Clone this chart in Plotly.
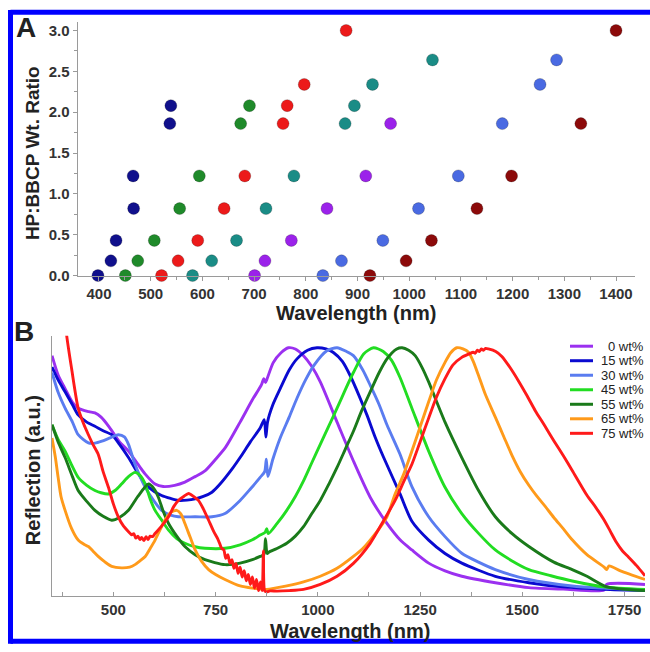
import plotly.graph_objects as go

# ---------------- Panel A data (wavelength nm, HP:BBCP ratio) ----------------
navy_x = [398, 423, 433, 467, 466, 537, 539]
navy_y = [0.0, 0.18, 0.43, 0.82, 1.22, 1.86, 2.08]
green_x = [451, 475, 507, 556, 594, 674, 691]
green_y = [0.0, 0.18, 0.43, 0.82, 1.22, 1.86, 2.08]
red_x = [521, 553, 591, 642, 682, 756, 764, 797, 878]
red_y = [0.0, 0.18, 0.43, 0.82, 1.22, 1.86, 2.08, 2.34, 3.0]
teal_x = [581, 618, 666, 723, 777, 876, 894, 929, 1045]
teal_y = [0.0, 0.18, 0.43, 0.82, 1.22, 1.86, 2.08, 2.34, 2.64]
purple_x = [701, 721, 772, 841, 916, 964]
purple_y = [0.0, 0.18, 0.43, 0.82, 1.22, 1.86]
royal_x = [833, 869, 949, 1018, 1095, 1180, 1253, 1285]
royal_y = [0.0, 0.18, 0.43, 0.82, 1.22, 1.86, 2.34, 2.64]
dkred_x = [924, 994, 1043, 1131, 1198, 1332, 1400]
dkred_y = [0.0, 0.18, 0.43, 0.82, 1.22, 1.86, 3.0]

# ---------------- Panel B data (wavelength nm, reflection a.u.) ----------------
labels = ["0 wt%", "15 wt%", "30 wt%", "45 wt%", "55 wt%", "65 wt%", "75 wt%"]

w0 = [350, 365, 382, 400, 414, 440, 455, 470, 490, 515, 537, 560, 578, 602, 622, 650, 675, 700, 724, 750, 775,
      810, 840, 862, 868, 872, 876, 891, 910, 928, 945, 965, 985, 1006, 1047, 1087, 1128, 1169, 1201, 1230, 1271,
      1311, 1352, 1434, 1516, 1600, 1700, 1706, 1800]
r0 = [0.968, 0.89, 0.835, 0.78, 0.756, 0.742, 0.737, 0.72, 0.68, 0.62, 0.583, 0.53, 0.49, 0.45, 0.44, 0.445,
      0.458, 0.48, 0.503, 0.55, 0.60, 0.70, 0.79, 0.85, 0.875, 0.86, 0.875, 0.94, 0.98, 1.0, 0.995, 0.968, 0.925,
      0.862, 0.70, 0.543, 0.397, 0.291, 0.225, 0.184, 0.131, 0.10, 0.078, 0.052, 0.032, 0.026, 0.022, 0.045, 0.045]

w1 = [350, 365, 382, 400, 414, 435, 455, 475, 496, 515, 537, 558, 578, 600, 618, 640, 659, 680, 700, 720, 741,
      761, 790, 810, 835, 859, 869, 873, 877, 890, 908, 930, 949, 975, 998, 1020, 1038, 1060, 1079, 1100, 1120,
      1140, 1161, 1201, 1230, 1271, 1311, 1352, 1434, 1516, 1600, 1700, 1800]
r1 = [0.922, 0.87, 0.822, 0.77, 0.729, 0.70, 0.683, 0.665, 0.649, 0.61, 0.557, 0.50, 0.45, 0.42, 0.404, 0.392,
      0.384, 0.385, 0.39, 0.40, 0.417, 0.45, 0.51, 0.557, 0.62, 0.676, 0.71, 0.64, 0.70, 0.77, 0.835, 0.91, 0.955,
      0.99, 1.0, 0.995, 0.981, 0.945, 0.888, 0.81, 0.729, 0.64, 0.557, 0.41, 0.30, 0.224, 0.17, 0.131, 0.078,
      0.052, 0.035, 0.025, 0.02]

w2 = [350, 365, 382, 400, 414, 439, 455, 472, 490, 512, 527, 537, 553, 578, 600, 618, 640, 659, 700, 741, 773,
      810, 835, 859, 870, 874, 878, 890, 908, 930, 949, 970, 990, 1022, 1047, 1070, 1087, 1110, 1128, 1150, 1169,
      1201, 1230, 1271, 1311, 1352, 1393, 1434, 1516, 1622, 1700, 1800]
r2 = [0.90, 0.82, 0.756, 0.70, 0.649, 0.616, 0.615, 0.623, 0.635, 0.649, 0.64, 0.61, 0.53, 0.437, 0.38, 0.344,
      0.325, 0.318, 0.318, 0.318, 0.331, 0.384, 0.43, 0.477, 0.50, 0.55, 0.48, 0.55, 0.636, 0.72, 0.796, 0.87,
      0.928, 0.988, 1.0, 0.985, 0.968, 0.91, 0.849, 0.77, 0.689, 0.57, 0.44, 0.318, 0.238, 0.171, 0.135, 0.105,
      0.065, 0.039, 0.03, 0.022]

w3 = [350, 365, 382, 400, 414, 435, 455, 470, 488, 505, 520, 537, 553, 565, 578, 590, 602, 620, 635, 655, 675,
      700, 724, 773, 810, 840, 859, 871, 875, 879, 900, 924, 945, 965, 985, 1006, 1027, 1047, 1067, 1087, 1112,
      1136, 1160, 1180, 1201, 1230, 1271, 1311, 1352, 1393, 1434, 1475, 1516, 1570, 1622, 1700, 1800]
r3 = [0.689, 0.63, 0.583, 0.52, 0.477, 0.445, 0.424, 0.415, 0.41, 0.425, 0.45, 0.48, 0.497, 0.485, 0.45, 0.39,
      0.344, 0.30, 0.264, 0.23, 0.211, 0.197, 0.191, 0.191, 0.205, 0.225, 0.244, 0.255, 0.27, 0.25, 0.29, 0.344,
      0.40, 0.463, 0.535, 0.61, 0.685, 0.756, 0.83, 0.90, 0.975, 1.0, 0.985, 0.95, 0.88, 0.756, 0.583, 0.437,
      0.331, 0.251, 0.184, 0.14, 0.105, 0.08, 0.059, 0.035, 0.025]

w4 = [350, 365, 382, 400, 414, 435, 455, 475, 496, 515, 537, 560, 586, 600, 610, 622, 635, 655, 675, 700, 724,
      773, 810, 840, 859, 868, 872, 876, 880, 900, 924, 945, 965, 985, 1006, 1027, 1047, 1067, 1087, 1107, 1128,
      1150, 1169, 1193, 1206, 1222, 1238, 1255, 1271, 1311, 1352, 1393, 1434, 1475, 1516, 1577, 1622, 1658, 1707,
      1800]
r4 = [0.689, 0.62, 0.557, 0.48, 0.424, 0.38, 0.344, 0.32, 0.304, 0.315, 0.344, 0.40, 0.45, 0.43, 0.397, 0.34,
      0.291, 0.24, 0.198, 0.165, 0.145, 0.125, 0.131, 0.145, 0.158, 0.165, 0.23, 0.17, 0.175, 0.19, 0.211, 0.24,
      0.278, 0.33, 0.384, 0.45, 0.517, 0.59, 0.663, 0.745, 0.822, 0.90, 0.955, 0.995, 1.0, 0.99, 0.968, 0.92,
      0.862, 0.70, 0.557, 0.424, 0.318, 0.25, 0.198, 0.135, 0.105, 0.078, 0.035, 0.02]

w5 = [350, 358, 365, 372, 382, 398, 414, 430, 439, 450, 463, 480, 496, 520, 540, 553, 565, 578, 590, 602, 614,
      626, 640, 655, 665, 675, 688, 700, 715, 733, 750, 773, 810, 840, 875, 924, 965, 1006, 1047, 1087, 1110,
      1128, 1150, 1169, 1189, 1210, 1230, 1250, 1271, 1290, 1311, 1325, 1340, 1355, 1369, 1380, 1393, 1410, 1434,
      1455, 1475, 1495, 1516, 1536, 1556, 1577, 1600, 1622, 1658, 1700, 1706, 1712, 1740, 1800]
r5 = [0.636, 0.56, 0.477, 0.40, 0.344, 0.27, 0.224, 0.205, 0.198, 0.18, 0.158, 0.135, 0.118, 0.112, 0.115,
      0.125, 0.14, 0.158, 0.19, 0.224, 0.265, 0.304, 0.335, 0.344, 0.33, 0.291, 0.235, 0.184, 0.14, 0.105, 0.085,
      0.065, 0.039, 0.03, 0.025, 0.039, 0.055, 0.078, 0.11, 0.158, 0.19, 0.224, 0.27, 0.318, 0.41, 0.49, 0.583,
      0.68, 0.782, 0.87, 0.941, 0.98, 1.0, 0.995, 0.981, 0.945, 0.888, 0.81, 0.72, 0.64, 0.565, 0.50, 0.445,
      0.40, 0.36, 0.315, 0.27, 0.225, 0.165, 0.115, 0.105, 0.12, 0.10, 0.065]

w6 = [370, 386, 398, 414, 428, 439, 450, 463, 475, 488, 500, 512, 525, 537, 545, 550, 555, 560, 565, 569, 575,
      580, 585, 590, 596, 602, 618, 635, 648, 659, 672, 684, 696, 708, 720, 733, 745, 755, 760, 765, 770, 775,
      780, 785, 790, 795, 800, 805, 810, 815, 820, 825, 830, 835, 840, 845, 850, 855, 860, 864, 867, 870, 875,
      883, 900, 930, 965, 1006, 1047, 1087, 1128, 1160, 1189, 1210, 1230, 1250, 1271, 1290, 1311, 1330, 1352,
      1370, 1380, 1385, 1390, 1395, 1400, 1405, 1410, 1417, 1435, 1450, 1470, 1491, 1512, 1532, 1553, 1577, 1600,
      1622, 1658, 1680, 1700, 1715, 1730, 1745, 1760, 1780, 1800]
r6 = [1.3, 1.048, 0.915, 0.756, 0.69, 0.649, 0.61, 0.57, 0.50, 0.437, 0.37, 0.318, 0.28, 0.258, 0.245, 0.25,
      0.232, 0.24, 0.226, 0.235, 0.222, 0.238, 0.226, 0.24, 0.238, 0.251, 0.28, 0.318, 0.36, 0.384, 0.40, 0.412,
      0.40, 0.384, 0.35, 0.304, 0.26, 0.23, 0.21, 0.19, 0.185, 0.15, 0.165, 0.13, 0.145, 0.11, 0.13, 0.09, 0.115,
      0.075, 0.10, 0.06, 0.085, 0.045, 0.075, 0.03, 0.065, 0.02, 0.055, 0.02, 0.18, 0.02, 0.015, 0.019, 0.018,
      0.02, 0.025, 0.045, 0.078, 0.13, 0.211, 0.30, 0.384, 0.46, 0.53, 0.62, 0.716, 0.80, 0.875, 0.93, 0.961,
      0.975, 0.982, 0.978, 0.99, 0.985, 0.995, 0.99, 0.997, 0.995, 0.985, 0.965, 0.92, 0.865, 0.805, 0.745, 0.69,
      0.625, 0.565, 0.505, 0.405, 0.355, 0.305, 0.26, 0.215, 0.18, 0.155, 0.12, 0.08]

spec_x = [w0, w1, w2, w3, w4, w5, w6]
spec_y = [r0, r1, r2, r3, r4, r5, r6]
spec_colors = ["#9b30f0", "#0a0ad0", "#5a7cf0", "#22dd22", "#1a7a1a", "#ff9a1a", "#ff1a1a"]

W, H = 650, 652

def px2x(p):
    return p / W

def py2y(p):
    return (H - p) / H

fig = go.Figure()

a_series = [
    (navy_x, navy_y, "#10108c"),
    (green_x, green_y, "#1f8a2a"),
    (red_x, red_y, "#ec1a1a"),
    (teal_x, teal_y, "#1a8c86"),
    (purple_x, purple_y, "#9b22ea"),
    (royal_x, royal_y, "#4a6ae2"),
    (dkred_x, dkred_y, "#8c0a0a"),
]
for xs, ys, c in a_series:
    fig.add_trace(go.Scatter(x=xs, y=ys, mode="markers", xaxis="x", yaxis="y", showlegend=False,
                             cliponaxis=False,
                             marker=dict(size=12, color=c, line=dict(width=0.6, color="rgba(0,0,0,0.35)"))))

for xs, ys, c, lab in zip(spec_x, spec_y, spec_colors, labels):
    fig.add_trace(go.Scatter(x=xs, y=ys, mode="lines", name=lab, xaxis="x2", yaxis="y2", showlegend=False,
                             line=dict(color=c, width=2.9, shape="spline", smoothing=0.7)))

tickfont = dict(family="Liberation Sans, Arial", size=15, color="#333333", weight="bold")
axcol = "#9a9a9a"

fig.update_layout(
    width=W, height=H,
    margin=dict(l=0, r=0, t=0, b=0, pad=0),
    paper_bgcolor="white", plot_bgcolor="white",
    showlegend=False,
    xaxis=dict(domain=[px2x(78), px2x(635)], range=[359.4, 1436.7], anchor="y",
               tickvals=[400, 500, 600, 700, 800, 900, 1000, 1100, 1200, 1300, 1400],
               showline=True, linecolor=axcol, linewidth=1.5, ticks="outside", ticklen=4,
               tickcolor=axcol, tickwidth=1, showgrid=False, zeroline=False, tickfont=tickfont,
               minor=dict(dtick=50, tick0=350, ticks="outside", ticklen=3, tickcolor=axcol, showgrid=False)),
    yaxis=dict(domain=[py2y(279), py2y(22.6)], range=[0, 3.1], anchor="x",
               tickvals=[0, 0.5, 1.0, 1.5, 2.0, 2.5, 3.0], tickformat=".1f",
               showline=True, linecolor=axcol, linewidth=1.5, ticks="outside", ticklen=4,
               tickcolor=axcol, showgrid=False, zeroline=False, tickfont=tickfont,
               minor=dict(dtick=0.25, ticks="outside", ticklen=3, tickcolor=axcol, showgrid=False)),
    xaxis2=dict(domain=[px2x(52), px2x(645)], range=[350, 1800], anchor="y2",
                tickvals=[500, 750, 1000, 1250, 1500, 1750],
                showline=True, linecolor=axcol, linewidth=1.5, ticks="inside", ticklen=4,
                tickcolor=axcol, showgrid=False, zeroline=False, tickfont=tickfont,
                minor=dict(dtick=125, tick0=375, ticks="inside", ticklen=4, tickcolor=axcol, showgrid=False)),
    yaxis2=dict(domain=[py2y(603), py2y(340)], range=[0, 1.048], anchor="x2",
                showline=True, linecolor=axcol, linewidth=1.5, ticks="", showticklabels=False,
                showgrid=False, zeroline=False),
    font=dict(family="Liberation Sans, Arial"),
)

# legend for panel B (line samples + right-aligned labels)
leg_font = dict(family="Liberation Sans, Arial", size=13, color="#222222")
for i, (lab, c) in enumerate(zip(labels, spec_colors)):
    yy = 350.5 + i * 14.7
    fig.add_shape(type="line", xref="paper", yref="paper", x0=px2x(570), x1=px2x(593),
                  y0=py2y(yy), y1=py2y(yy), line=dict(color=c, width=3))
    fig.add_annotation(xref="paper", yref="paper", x=px2x(646), y=py2y(yy), text=lab, showarrow=False,
                       xanchor="right", yanchor="middle", font=leg_font)

bold = dict(family="Liberation Sans, Arial", color="#222222", weight="bold")
annos = [
    dict(text="A", x=px2x(26), y=py2y(28), font=dict(size=28, **bold)),
    dict(text="B", x=px2x(24), y=py2y(336), font=dict(size=28, **bold)),
    dict(text="HP:BBCP Wt. Ratio", x=px2x(32), y=py2y(155), textangle=-90, font=dict(size=19, **bold)),
    dict(text="Wavelength (nm)", x=px2x(356), y=py2y(317), font=dict(size=20, **bold)),
    dict(text="Reflection (a.u.)", x=px2x(33), y=py2y(476), textangle=-90, font=dict(size=20, **bold)),
    dict(text="Wavelength (nm)", x=px2x(350), y=py2y(639), font=dict(size=20, **bold)),
]
for a in annos:
    fig.add_annotation(xref="paper", yref="paper", showarrow=False, xanchor="center", yanchor="middle", **a)

# blue frame: left, top and bottom edges (the right edge lies outside the picture)
frame = dict(color="#0000ff", width=5)
fig.add_shape(type="line", xref="paper", yref="paper", x0=px2x(10.5), x1=1.0, y0=py2y(12.5), y1=py2y(12.5),
              line=frame, layer="above")
fig.add_shape(type="line", xref="paper", yref="paper", x0=px2x(10.5), x1=1.0, y0=py2y(649.3), y1=py2y(649.3),
              line=frame, layer="above")
fig.add_shape(type="line", xref="paper", yref="paper", x0=px2x(10.5), x1=px2x(10.5), y0=py2y(651.8),
              y1=py2y(10), line=frame, layer="above")

fig.write_html("out.html", config={"displayModeBar": False, "staticPlot": True},
               post_script=("document.documentElement.style.margin='0';"
                            "document.documentElement.style.overflow='hidden';"
                            "document.body.style.margin='0';document.body.style.overflow='hidden';"))
